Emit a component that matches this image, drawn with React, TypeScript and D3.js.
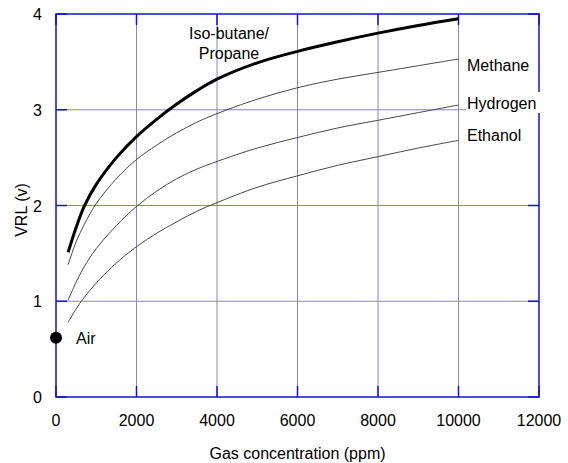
import React from "react";
import * as d3 from "d3";

const ppm = [300, 500, 700, 1000, 1500, 2000, 2500, 3000, 3500, 4000, 5000, 6000, 7000, 8000, 9000, 10000];
const isoButane = [1.51, 1.77, 1.99, 2.22, 2.5, 2.72, 2.9, 3.06, 3.2, 3.32, 3.49, 3.61, 3.71, 3.8, 3.88, 3.95];
const methane = [1.38, 1.62, 1.8, 2.02, 2.28, 2.48, 2.63, 2.76, 2.87, 2.96, 3.11, 3.23, 3.32, 3.39, 3.46, 3.53];
const hydrogen = [1.01, 1.2, 1.36, 1.55, 1.79, 1.99, 2.15, 2.28, 2.38, 2.46, 2.6, 2.71, 2.81, 2.89, 2.97, 3.05];
const ethanol = [0.78, 0.92, 1.04, 1.19, 1.4, 1.57, 1.71, 1.83, 1.94, 2.03, 2.19, 2.31, 2.42, 2.51, 2.6, 2.68];
const airPoint = { x: 0, y: 0.62 };
const xTicks = [0, 2000, 4000, 6000, 8000, 10000, 12000];
const yTicks = [0, 1, 2, 3, 4];

const W = 568, H = 463;
const L = 56, R = 539, T = 14, B = 397;
const font = "Arial, 'Liberation Sans', sans-serif";
const gridColor = "#8585c8";
const borderColor = "#1010e0";
const TL = 11;

export default function App() {
  const x = d3.scaleLinear().domain([0, 12000]).range([L, R]);
  const y = d3.scaleLinear().domain([0, 4]).range([B, T]);
  const line = d3
    .line<[number, number]>()
    .x((d) => x(d[0]))
    .y((d) => y(d[1]))
    .curve(d3.curveCatmullRom.alpha(0.5));
  const mk = (vals: number[]) => line(ppm.map((p, i) => [p, vals[i]] as [number, number])) || "";

  return (
    <svg width={W} height={H} style={{ position: "absolute", left: 0, top: 0, background: "#fff" }} fontFamily={font}>
      <rect x={0} y={0} width={W} height={H} fill="#fff" />
      {xTicks.slice(1, -1).map((t) => (
        <line key={"gx" + t} x1={x(t)} x2={x(t)} y1={T} y2={B} stroke={gridColor} strokeWidth={1} />
      ))}
      {yTicks.slice(1, -1).map((t) => (
        <line key={"gy" + t} x1={L} x2={R} y1={y(t)} y2={y(t)} stroke={gridColor} strokeWidth={1} />
      ))}
      <rect x={L} y={T} width={R - L} height={B - T} fill="none" stroke={borderColor} strokeWidth={1.5} />
      {xTicks.map((t) => (
        <g key={"tx" + t}>
          <line x1={x(t)} x2={x(t)} y1={B} y2={B - TL} stroke={borderColor} strokeWidth={1.5} />
          <line x1={x(t)} x2={x(t)} y1={T} y2={T + TL} stroke={borderColor} strokeWidth={1.5} />
        </g>
      ))}
      {yTicks.map((t) => (
        <g key={"ty" + t}>
          <line x1={L} x2={L + TL} y1={y(t)} y2={y(t)} stroke={borderColor} strokeWidth={1.5} />
          <line x1={R} x2={R - TL} y1={y(t)} y2={y(t)} stroke={borderColor} strokeWidth={1.5} />
        </g>
      ))}
      <path d={mk(ethanol)} fill="none" stroke="#333" strokeWidth={0.9} />
      <path d={mk(hydrogen)} fill="none" stroke="#333" strokeWidth={0.9} />
      <path d={mk(methane)} fill="none" stroke="#333" strokeWidth={0.9} />
      <path d={mk(isoButane)} fill="none" stroke="#000" strokeWidth={3} />
      <circle cx={x(airPoint.x)} cy={y(airPoint.y)} r={6} fill="#000" />
      <text x={76} y={y(airPoint.y) + 6} fontSize={16} fill="#000">Air</text>
      <text x={229} y={39} fontSize={16} textAnchor="middle">Iso-butane/</text>
      <text x={229} y={59} fontSize={16} textAnchor="middle">Propane</text>
      <text x={467} y={71} fontSize={16}>Methane</text>
      <rect x={466} y={92} width={76} height={21} fill="#fff" />
      <text x={467} y={109} fontSize={16}>Hydrogen</text>
      <text x={467} y={141} fontSize={16}>Ethanol</text>
      {xTicks.map((t) => (
        <text key={"lx" + t} x={x(t)} y={B + 29} fontSize={16} textAnchor="middle">{t}</text>
      ))}
      {yTicks.map((t) => (
        <text key={"ly" + t} x={42} y={y(t) + 6} fontSize={16} textAnchor="end">{t}</text>
      ))}
      <text x={(L + R) / 2} y={459} fontSize={16} textAnchor="middle">Gas concentration (ppm)</text>
      <text transform={`translate(27,210) rotate(-90)`} fontSize={16} textAnchor="middle">VRL (v)</text>
    </svg>
  );
}
